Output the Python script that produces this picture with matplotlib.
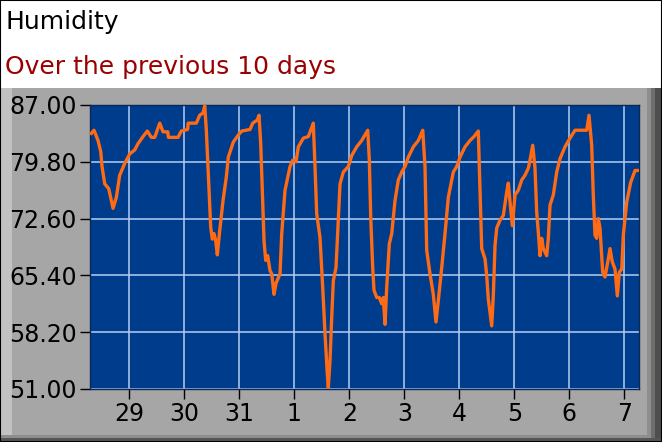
import numpy as np
import matplotlib.pyplot as plt
from matplotlib.patches import Rectangle

plt.rcParams['font.family'] = ['DejaVu Sans']

# time in days, 0 = the "29" tick
days = [-0.691, -0.642, -0.569, -0.520, -0.496, -0.447, -0.375, -0.327, -0.296, -0.236,
        -0.175, -0.084, 0.007, 0.098, 0.158, 0.249, 0.327, 0.400, 0.462, 0.553,
        0.613, 0.700, 0.710, 0.885, 0.945, 1.060, 1.070, 1.218, 1.280, 1.340,
        1.371, 1.400, 1.444, 1.480, 1.509, 1.540, 1.571, 1.600, 1.644, 1.704,
        1.764, 1.800, 1.891, 1.982, 2.044, 2.195, 2.244, 2.327, 2.358, 2.389,
        2.425, 2.449, 2.480, 2.516, 2.558, 2.589, 2.631, 2.667, 2.740, 2.771,
        2.831, 2.922, 2.971, 3.031, 3.073, 3.164, 3.255, 3.345, 3.376, 3.407,
        3.467, 3.516, 3.558, 3.600, 3.618, 3.649, 3.680, 3.709, 3.758, 3.831,
        3.891, 3.982, 4.044, 4.135, 4.225, 4.285, 4.335, 4.364, 4.389, 4.425,
        4.449, 4.498, 4.545, 4.589, 4.618, 4.649, 4.680, 4.727, 4.771, 4.831,
        4.891, 4.953, 5.013, 5.073, 5.164, 5.255, 5.335, 5.376, 5.407, 5.467,
        5.527, 5.576, 5.618, 5.680, 5.740, 5.800, 5.891, 5.953, 6.013, 6.104,
        6.195, 6.267, 6.345, 6.376, 6.407, 6.467, 6.498, 6.527, 6.589, 6.618,
        6.649, 6.680, 6.740, 6.800, 6.862, 6.891, 6.922, 6.964, 7.013, 7.073,
        7.135, 7.195, 7.255, 7.285, 7.335, 7.376, 7.407, 7.436, 7.467, 7.498,
        7.527, 7.589, 7.618, 7.649, 7.709, 7.771, 7.831, 7.922, 8.013, 8.104,
        8.316, 8.358, 8.407, 8.436, 8.467, 8.498, 8.527, 8.558, 8.607, 8.649,
        8.709, 8.740, 8.782, 8.831, 8.873, 8.909, 8.953, 8.982, 9.044, 9.116,
        9.195, 9.255]
humidity = [83.4, 83.8, 82.5, 81.1, 79.2, 77.0, 76.4, 74.9, 73.9, 75.3,
            78.1, 79.6, 80.8, 81.3, 82.1, 83.0, 83.7, 82.9, 82.9, 84.7,
            83.6, 83.6, 82.9, 82.9, 83.7, 83.9, 84.7, 84.7, 85.7, 86.0,
            86.9, 83.8, 77.0, 71.5, 70.0, 70.7, 69.8, 68.0, 71.1, 74.9,
            77.9, 80.4, 82.3, 83.2, 83.7, 83.9, 84.7, 85.1, 85.7, 82.1,
            74.9, 69.8, 67.3, 67.9, 66.0, 65.6, 63.0, 64.4, 65.6, 70.7,
            76.2, 79.2, 80.0, 79.8, 81.7, 82.8, 83.0, 84.7, 79.2, 73.2,
            70.2, 63.9, 58.0, 52.9, 51.2, 54.6, 60.1, 64.7, 66.4, 77.0,
            78.5, 79.2, 80.6, 81.7, 82.5, 83.2, 83.8, 80.0, 72.8, 66.4,
            63.5, 62.6, 62.6, 61.8, 62.6, 59.2, 63.9, 69.4, 70.7, 74.9,
            77.5, 78.5, 79.2, 80.4, 81.7, 82.5, 83.8, 79.2, 68.6, 65.6,
            63.0, 59.5, 62.2, 66.4, 70.7, 75.3, 78.5, 79.2, 80.4, 81.7,
            82.5, 83.0, 83.7, 76.0, 68.8, 67.5, 65.4, 62.4, 59.0, 62.8,
            69.2, 71.4, 72.4, 73.0, 76.0, 77.1, 74.7, 71.7, 75.6, 76.2,
            77.5, 78.1, 79.0, 80.0, 81.9, 79.0, 73.4, 70.9, 67.9, 70.1,
            68.8, 67.9, 70.1, 74.3, 75.6, 78.5, 80.2, 81.7, 82.8, 83.8,
            83.8, 85.7, 81.9, 75.6, 70.5, 70.1, 72.6, 71.4, 65.8, 65.2,
            67.5, 68.8, 67.1, 66.2, 62.8, 65.8, 66.2, 70.5, 74.7, 77.2,
            78.7, 78.7]

tick_pos = list(range(10))
tick_labels = ['29', '30', '31', '1', '2', '3', '4', '5', '6', '7']
y_ticks = [51.0, 58.2, 65.4, 72.6, 79.8, 87.0]

fig = plt.figure(figsize=(6.62, 4.42), dpi=100)
fig.patch.set_facecolor('white')

# grey panel behind the plot (zorder below the axes)
def panel(x, y, w, h, col):
    fig.patches.append(Rectangle((x/662, y/442), w/662, h/442, transform=fig.transFigure,
                                 facecolor=col, edgecolor='none', zorder=-2))

panel(0, 0, 662, 354, '#a6a6a6')
panel(0, 0, 12, 354, '#c2c2c2')
panel(647, 0, 4, 354, '#8e8e8e')
panel(651, 0, 4, 354, '#6e6e6e')
panel(655, 0, 7, 354, '#4e4e4e')
panel(0, 4, 651, 3, '#8e8e8e')
panel(0, 0, 662, 4, '#555555')
fig.patches.append(Rectangle((0, 0), 1, 1, transform=fig.transFigure,
                             facecolor='none', edgecolor='black', linewidth=1.5, zorder=5))

fig.text(5/662, 1 - 29/442, 'Humidity', fontsize=18, color='black')
fig.text(5/662, 1 - 74/442, 'Over the previous 10 days', fontsize=18, color='#990000')

ax = fig.add_axes([90/662, 53/442, 549/662, 284/442])
ax.set_facecolor('#003c8c')
ax.plot(days, humidity, color='#ff6a14', linewidth=2.4, zorder=3)

ax.set_xlim(-0.715, 9.267)
ax.set_ylim(51, 87)
ax.set_xticks(tick_pos)
ax.set_xticklabels(tick_labels)
ax.set_yticks(y_ticks)
ax.set_yticklabels(['%.2f' % v for v in y_ticks])
ax.grid(True, color='#b4cff0', linewidth=1.1)
ax.tick_params(axis='both', direction='out', length=7.5, width=1.0, color='black',
               labelsize=17, labelcolor='black', pad=2)
for s in ax.spines.values():
    s.set_color('#0a2a55')
    s.set_linewidth(1.0)

fig.savefig('out.png', dpi=100, facecolor=fig.get_facecolor())
